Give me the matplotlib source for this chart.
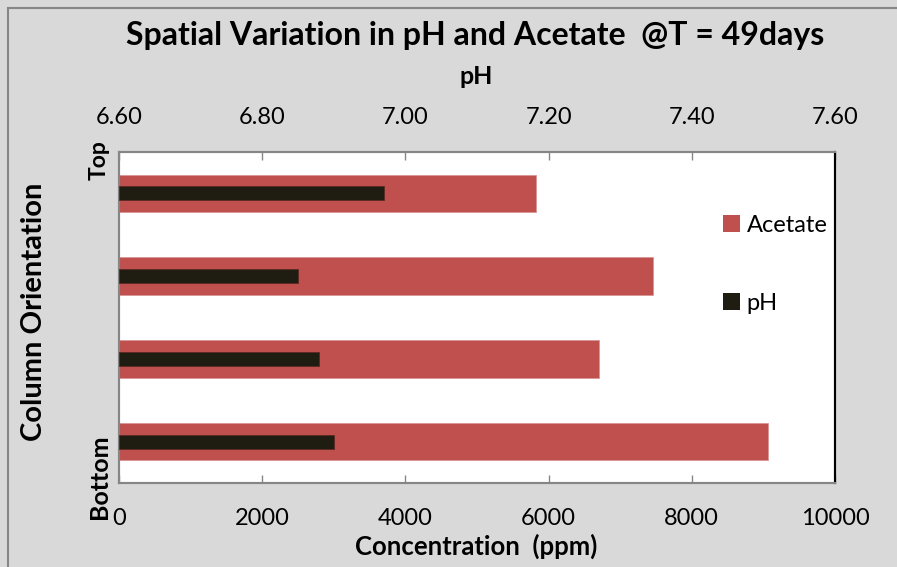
import matplotlib.pyplot as plt
from matplotlib.lines import Line2D
from matplotlib.patches import Patch
import numpy as np

plt.rcParams['font.family'] = ['Lato', 'DejaVu Sans']

# column sections, listed top to bottom
positions = ['Top', '', '', 'Bottom']
acetate = [5820, 7460, 6700, 9060]      # ppm
ph = [6.97, 6.85, 6.88, 6.90]

conc_ticks = [0, 2000, 4000, 6000, 8000, 10000]
ph_ticks = [6.60, 6.80, 7.00, 7.20, 7.40, 7.60]

red = '#C0504D'
dark = '#1F1C11'
frame = '#868686'
bg = '#D9D9D9'

W, H = 897, 567
fig = plt.figure(figsize=(W / 100, H / 100), dpi=100, facecolor=bg)


def fx(px):
    return px / W


def fy(py):
    return 1 - py / H


ax = fig.add_axes([fx(119), fy(483), fx(835) - fx(119), fy(152) - fy(483)])
ax.set_facecolor('white')
y = np.arange(len(positions))

ax.barh(y, acetate, height=0.455, color=red, edgecolor='#D99694', linewidth=0.6,
        label='Acetate', zorder=2)
ax.set_xlim(conc_ticks[0], conc_ticks[-1])
ax.set_ylim(len(positions) - 0.5, -0.5)
ax.set_yticks([])
ax.set_xticks(conc_ticks)
ax.set_xticklabels([str(t) for t in conc_ticks])
ax.tick_params(axis='x', direction='in', length=6, width=1, color=frame,
               labelsize=17, pad=18)

# pH on a second, top axis
ax2 = ax.twiny()
ph_base = ph_ticks[0]
ax2.barh(y, [p - ph_base for p in ph], left=ph_base, height=0.17, color=dark,
         edgecolor='#5a2a22', linewidth=0.6, label='pH', zorder=3)
ax2.set_xlim(ph_ticks[0], ph_ticks[-1])
ax2.set_ylim(len(positions) - 0.5, -0.5)
ax2.set_xticks(ph_ticks)
ax2.set_xticklabels(['%.2f' % t for t in ph_ticks])
ax2.tick_params(axis='x', direction='in', length=6, width=1, color=frame,
                labelsize=17, pad=17)

for a in (ax, ax2):
    for side in ('left', 'top', 'bottom'):
        a.spines[side].set_color(frame)
        a.spines[side].set_linewidth(1.5)
    a.spines['right'].set_color('black')
    a.spines['right'].set_linewidth(1.5)

handles = [Patch(facecolor=red, label='Acetate'), Patch(facecolor=dark, label='pH')]
ax2.legend(handles=handles, loc='upper left', bbox_to_anchor=(0.8436, 0.81),
           frameon=False, fontsize=17, handlelength=0.7, handleheight=0.7,
           handletextpad=0.3, labelspacing=2.4, borderpad=0, borderaxespad=0)

# category labels at the ends of the column
fig.text(fx(99), fy(160), positions[0], rotation=90, ha='center', va='center',
         fontsize=16.5, fontweight='bold')
fig.text(fx(99), fy(477), positions[-1], rotation=90, ha='center', va='center',
         fontsize=18, fontweight='bold')

fig.text(fx(475), fy(45), 'Spatial Variation in pH and Acetate  @T = 49days',
         ha='center', va='baseline', fontsize=23, fontweight='bold')
fig.text(fx(476), fy(84), 'pH', ha='center', va='baseline', fontsize=18,
         fontweight='bold')
fig.text(fx(476), fy(555), 'Concentration  (ppm)', ha='center', va='baseline',
         fontsize=18.5, fontweight='bold')
fig.text(fx(34), fy(312), 'Column Orientation', rotation=90, ha='center',
         va='center', fontsize=21, fontweight='bold')

# chart frame
fig.add_artist(Line2D([fx(8), fx(8)], [fy(8), 0], color=frame, lw=1.5))
fig.add_artist(Line2D([fx(8), 1], [fy(8), fy(8)], color=frame, lw=1.5))

fig.savefig('out.png', dpi=100, facecolor=bg)
